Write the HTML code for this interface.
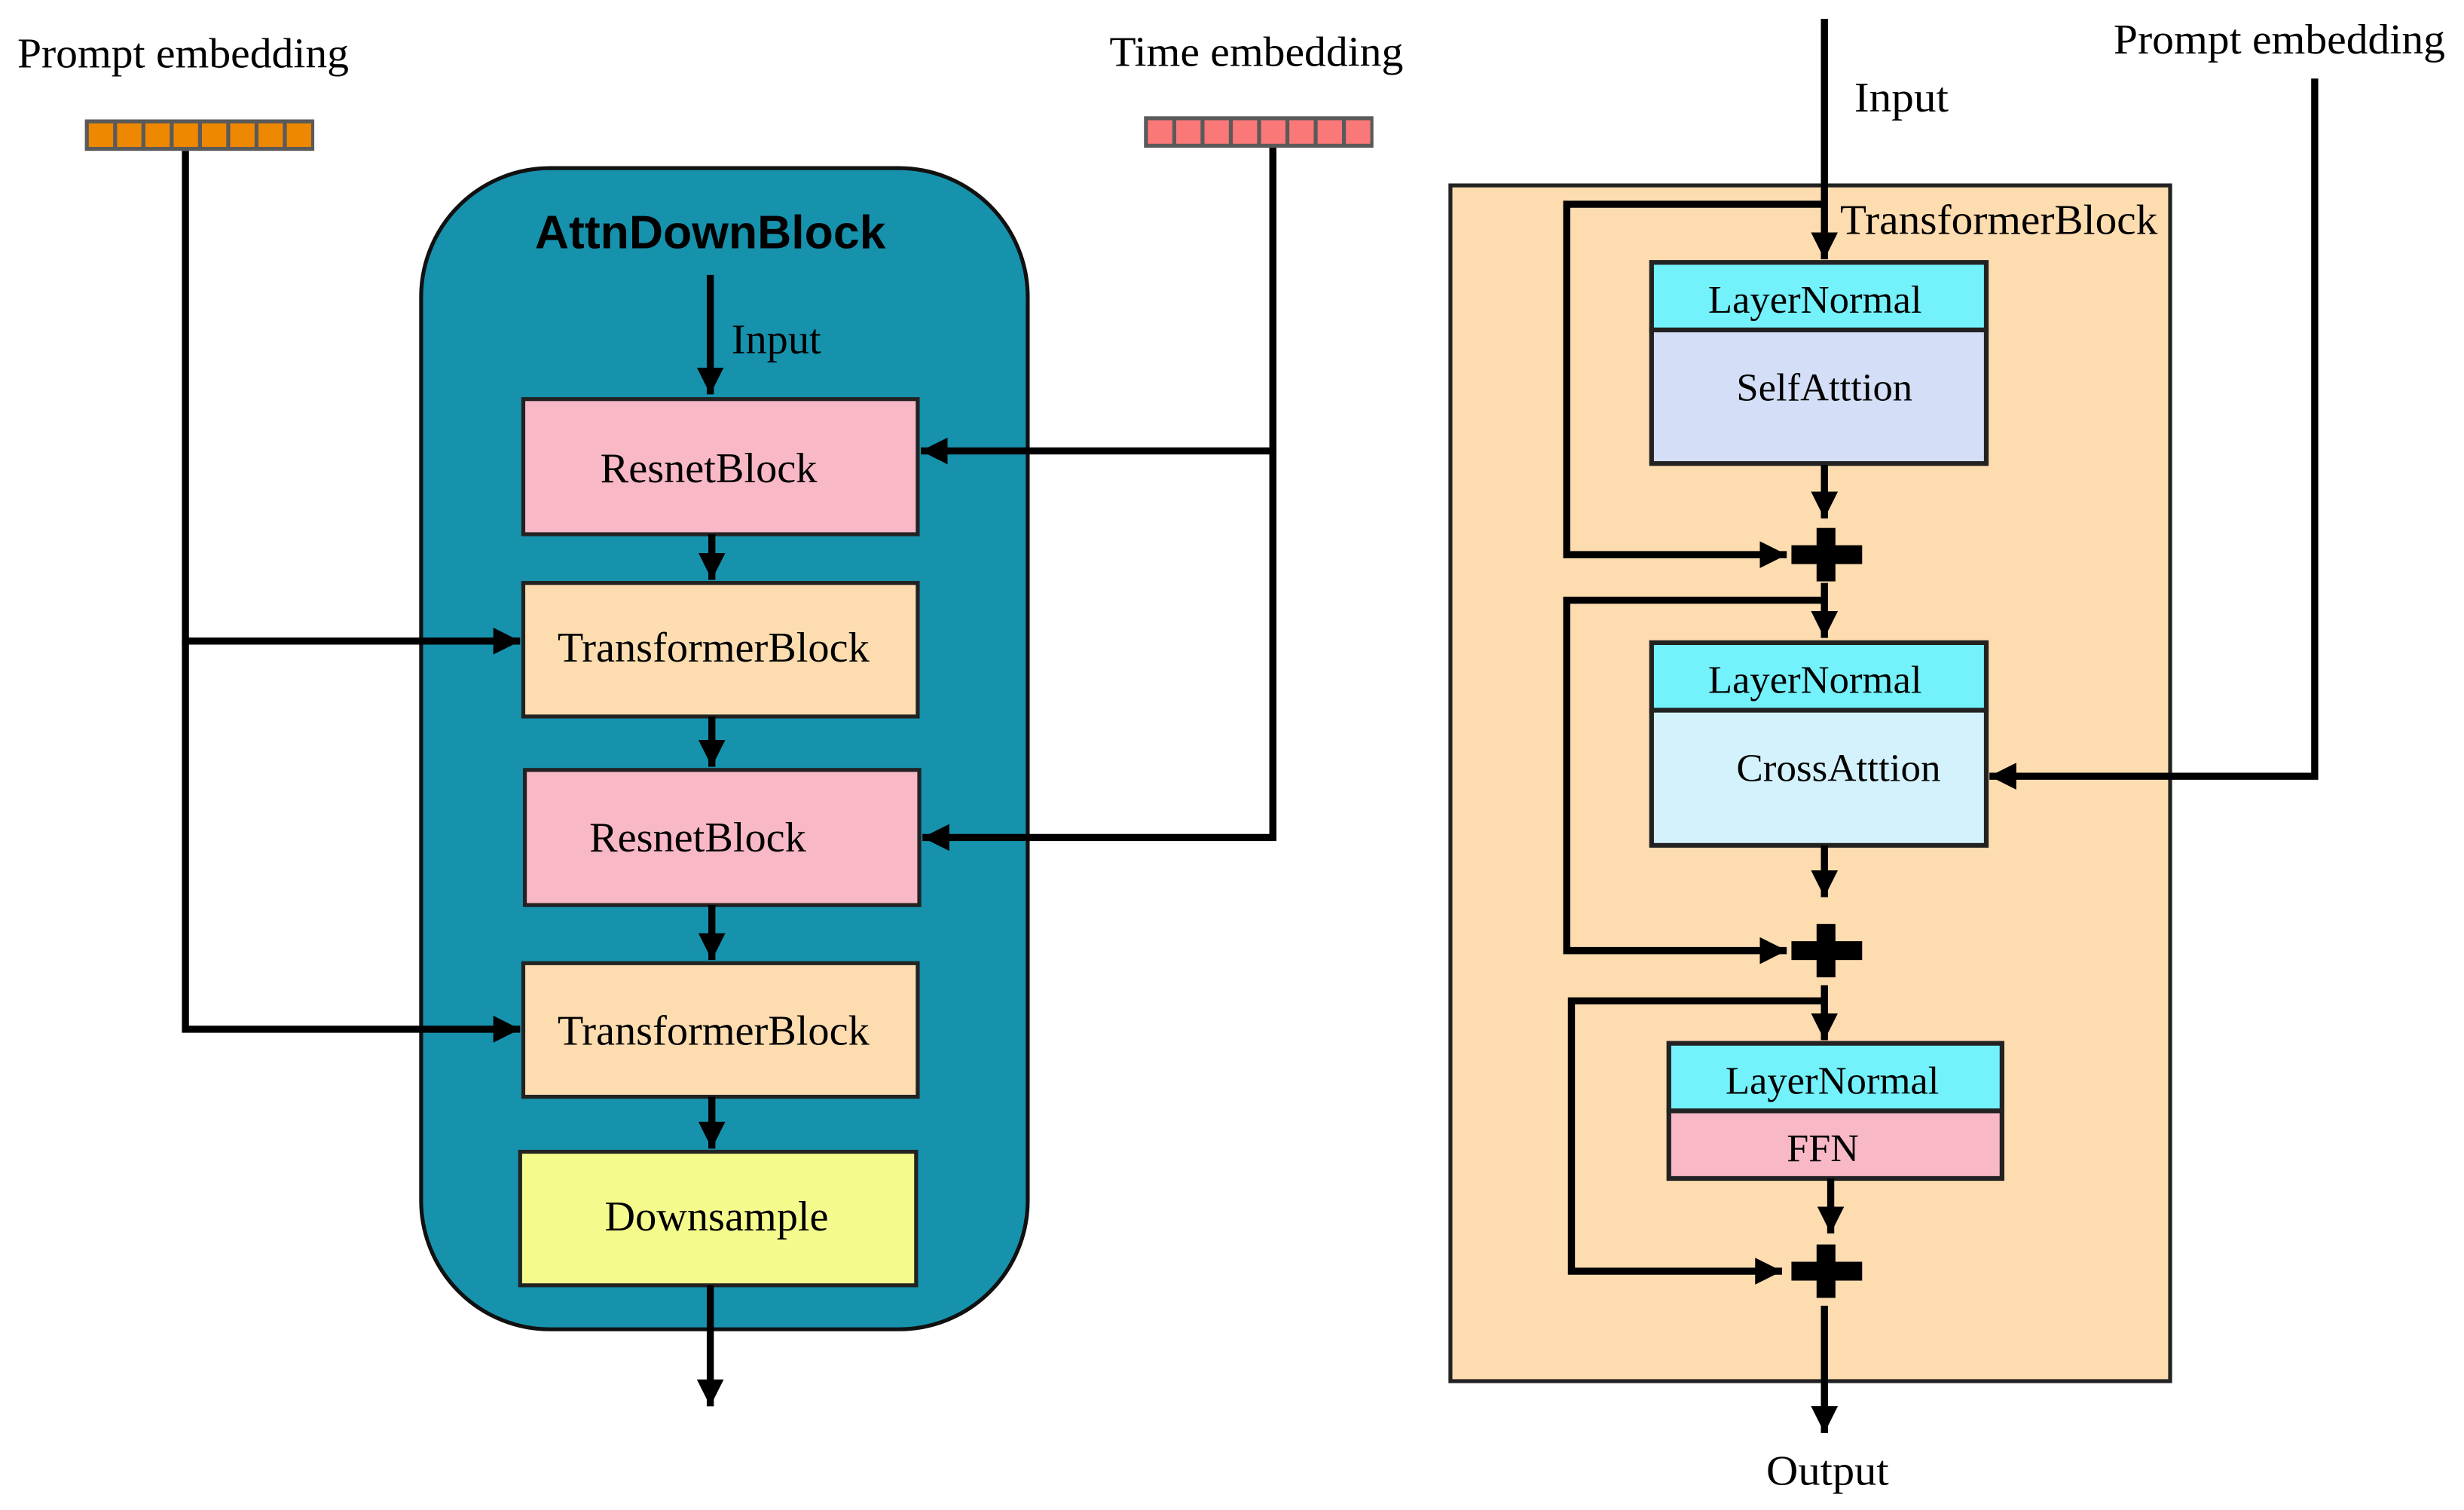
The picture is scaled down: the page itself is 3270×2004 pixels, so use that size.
<!DOCTYPE html>
<html><head><meta charset="utf-8"><style>html,body{margin:0;padding:0;background:#fff}svg{display:block}</style></head>
<body>
<svg width="3270" height="2004" viewBox="0 0 1568 961" preserveAspectRatio="none" xmlns="http://www.w3.org/2000/svg">
<defs>
<marker id="a" viewBox="0 0 10 10" refX="10" refY="5" markerWidth="3.8" markerHeight="3.8" markerUnits="strokeWidth" orient="auto"><path d="M0,0 L10,5 L0,10 z" fill="#000"/></marker>
</defs>
<g font-family="'Liberation Serif', serif" fill="#000">
<text x="11" y="43" font-size="27" textLength="211" lengthAdjust="spacingAndGlyphs">Prompt embedding</text>
<text x="706" y="42" font-size="27" textLength="187" lengthAdjust="spacingAndGlyphs">Time embedding</text>
</g>
<rect x="54" y="76" width="146" height="20" fill="#5a5a5a"/>
<g fill="#ee8800">
<rect x="56.5" y="78.5" width="15.5" height="15"/><rect x="74.5" y="78.5" width="15.5" height="15"/><rect x="92.5" y="78.5" width="15.5" height="15"/><rect x="110.5" y="78.5" width="15.5" height="15"/><rect x="128.5" y="78.5" width="15.5" height="15"/><rect x="146.5" y="78.5" width="15.5" height="15"/><rect x="164.5" y="78.5" width="15.5" height="15"/><rect x="182.5" y="78.5" width="15.5" height="15"/>
</g>
<rect x="728" y="74" width="146" height="20" fill="#5a5a5a"/>
<g fill="#fa7878">
<rect x="730.5" y="76.5" width="15.5" height="15"/><rect x="748.5" y="76.5" width="15.5" height="15"/><rect x="766.5" y="76.5" width="15.5" height="15"/><rect x="784.5" y="76.5" width="15.5" height="15"/><rect x="802.5" y="76.5" width="15.5" height="15"/><rect x="820.5" y="76.5" width="15.5" height="15"/><rect x="838.5" y="76.5" width="15.5" height="15"/><rect x="856.5" y="76.5" width="15.5" height="15"/>
</g>
<rect x="268" y="107" width="386" height="739" rx="82" ry="82" fill="#1792ad" stroke="#111" stroke-width="2.5"/>
<text x="452" y="158" font-family="'Liberation Sans', sans-serif" font-weight="bold" font-size="30" text-anchor="middle">AttnDownBlock</text>
<g stroke="#222" stroke-width="2.5">
<rect x="333" y="254" width="251" height="86" fill="#f8b8c6"/>
<rect x="333" y="371" width="251" height="85" fill="#fddcb0"/>
<rect x="334" y="490" width="251" height="86" fill="#f8b8c6"/>
<rect x="333" y="613" width="251" height="85" fill="#fddcb0"/>
<rect x="331" y="733" width="252" height="85" fill="#f4fb8c"/>
</g>
<g font-family="'Liberation Serif', serif" font-size="27" text-anchor="middle">
<text x="451" y="307">ResnetBlock</text>
<text x="454" y="421">TransformerBlock</text>
<text x="444" y="542">ResnetBlock</text>
<text x="454" y="665">TransformerBlock</text>
<text x="456" y="783">Downsample</text>
<text x="494" y="225">Input</text>
</g>
<g stroke="#000" stroke-width="4.5" fill="none" marker-end="url(#a)">
<path d="M452 175 V251"/>
<path d="M453 340 V369"/>
<path d="M453 456 V488"/>
<path d="M453 576 V611"/>
<path d="M453 698 V731"/>
<path d="M452 818 V895"/>
<path d="M118 96 V408 H331"/>
<path d="M118 408 V655 H331"/>
<path d="M810 94 V287 H586"/>
<path d="M810 287 V533 H587"/>
</g>
<rect x="923" y="118" width="458" height="761" fill="#fddcb0" stroke="#222" stroke-width="2.5"/>
<g font-family="'Liberation Serif', serif" font-size="27">
<text x="1171" y="149" textLength="202" lengthAdjust="spacingAndGlyphs">TransformerBlock</text>
<text x="1180" y="71" textLength="60" lengthAdjust="spacingAndGlyphs">Input</text>
<text x="1345" y="34" textLength="211" lengthAdjust="spacingAndGlyphs">Prompt embedding</text>
<text x="1163" y="945" text-anchor="middle" textLength="78" lengthAdjust="spacingAndGlyphs">Output</text>
</g>
<g stroke="#222" stroke-width="3">
<rect x="1051" y="167" width="213" height="43" fill="#74f2fc"/>
<rect x="1051" y="210" width="213" height="85" fill="#d4def6"/>
<rect x="1051" y="409" width="213" height="43" fill="#74f2fc"/>
<rect x="1051" y="452" width="213" height="86" fill="#d4f2fc"/>
<rect x="1062" y="664" width="212" height="43" fill="#74f2fc"/>
<rect x="1062" y="707" width="212" height="43" fill="#f8b8c6"/>
</g>
<g font-family="'Liberation Serif', serif" font-size="25" text-anchor="middle">
<text x="1155" y="199" textLength="136" lengthAdjust="spacingAndGlyphs">LayerNormal</text>
<text x="1161" y="255" textLength="112" lengthAdjust="spacingAndGlyphs">SelfAtttion</text>
<text x="1155" y="441" textLength="136" lengthAdjust="spacingAndGlyphs">LayerNormal</text>
<text x="1170" y="497" textLength="130" lengthAdjust="spacingAndGlyphs">CrossAtttion</text>
<text x="1166" y="696" textLength="136" lengthAdjust="spacingAndGlyphs">LayerNormal</text>
<text x="1160" y="739">FFN</text>
</g>
<g stroke="#000" stroke-width="4.5" fill="none" marker-end="url(#a)">
<path d="M1161 12 V165"/>
<path d="M1161 296 V330"/>
<path d="M1161 371 V406"/>
<path d="M1161 538 V571"/>
<path d="M1161 627 V662"/>
<path d="M1165 750 V785"/>
<path d="M1161 831 V912"/>
<path d="M1473 50 V494 H1266"/>
<path d="M1161 130 H997 V353 H1137"/>
<path d="M1161 382 H997 V605 H1137"/>
<path d="M1161 637 H1000 V809 H1134"/>
</g>
<g fill="#000">
<rect x="1140" y="347" width="45" height="12"/><rect x="1156" y="336" width="12" height="34"/>
<rect x="1140" y="599" width="45" height="12"/><rect x="1156" y="588" width="12" height="34"/>
<rect x="1140" y="803" width="45" height="12"/><rect x="1156" y="792" width="12" height="34"/>
</g>
</svg>
</body></html>
